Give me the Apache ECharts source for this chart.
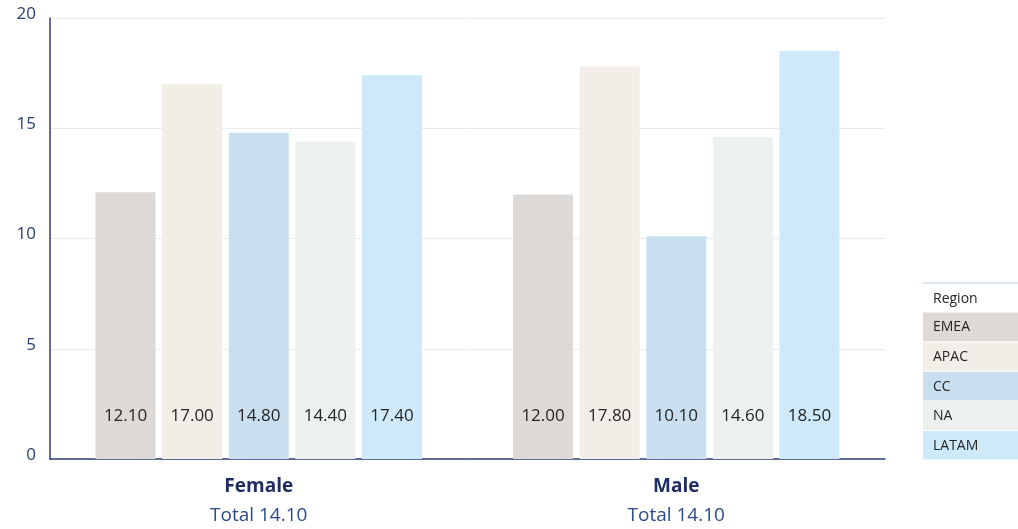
<!DOCTYPE html>
<html>
<head>
<meta charset="utf-8">
<script src="https://cdn.jsdelivr.net/npm/echarts@6/dist/echarts.min.js"></script>
<style>
html,body{margin:0;padding:0;background:#fff;}
#chart{width:1018px;height:529px;}
</style>
</head>
<body>
<div id="chart"></div>
<script>
// Average values by gender, split by region
const categories = ['Female', 'Male'];
const totals = ['14.10', '14.10'];
const regions = ['EMEA', 'APAC', 'CC', 'NA', 'LATAM'];
const regionColors = ['#dcd9d7', '#f2ede7', '#c9dff0', '#ecf0ef', '#cde9fa'];
const emea = [12.10, 12.00];
const apac = [17.00, 17.80];
const cc = [14.80, 10.10];
const na = [14.40, 14.60];
const latam = [17.40, 18.50];
const yTicks = [0, 5, 10, 15, 20];

const seriesValues = [emea, apac, cc, na, latam];
const font = "'Segoe UI', 'Open Sans', 'Noto Sans', sans-serif";

const chart = echarts.init(document.getElementById('chart'));

const series = regions.map((name, i) => ({
  name: name,
  type: 'bar',
  data: seriesValues[i],
  barWidth: 60,
  barGap: '11%',
  itemStyle: { color: regionColors[i] },
  label: {
    show: true,
    position: 'insideBottom',
    distance: 34,
    color: '#252525',
    fontSize: 17,
    fontFamily: font,
    formatter: p => p.value.toFixed(2)
  }
}));

// Region key drawn as a small table at the right
const legendLeft = 923, legendWidth = 95, rowH = 29.6, legendTop = 283;
const legendGraphics = [
  { type: 'line', shape: { x1: legendLeft, y1: legendTop, x2: legendLeft + legendWidth, y2: legendTop },
    style: { stroke: '#b8cfe4', lineWidth: 1 } },
  { type: 'text', x: legendLeft + 10, y: legendTop + 16,
    style: { text: 'Region', fontSize: 14, fontFamily: font, fill: '#252525', verticalAlign: 'middle' } }
];
regions.forEach((name, i) => {
  const y = legendTop + rowH * (i + 1);
  legendGraphics.push({ type: 'rect', shape: { x: legendLeft, y: y, width: legendWidth, height: rowH - 1 },
    style: { fill: regionColors[i] } });
  legendGraphics.push({ type: 'text', x: legendLeft + 10, y: y + rowH / 2,
    style: { text: name, fontSize: 14, fontFamily: font, fill: '#252525', verticalAlign: 'middle' } });
});

chart.setOption({
  animation: false,
  textStyle: { fontFamily: font },
  grid: { left: 50, right: 133, top: 18, bottom: 70 },
  xAxis: {
    type: 'category',
    data: categories,
    axisLine: { show: true, lineStyle: { color: '#2e3f7a', width: 1.5 } },
    axisTick: { show: false },
    axisLabel: {
      margin: 13,
      formatter: (v, idx) => '{b|' + v + '}\n{t|Total ' + totals[idx] + '}',
      rich: {
        b: { fontSize: 19, fontWeight: 'bold', color: '#1f2d62', fontFamily: font, lineHeight: 29 },
        t: { fontSize: 19, color: '#2d4a8c', fontFamily: font, lineHeight: 29 }
      }
    }
  },
  yAxis: {
    type: 'value',
    min: yTicks[0],
    max: yTicks[yTicks.length - 1],
    interval: yTicks[1] - yTicks[0],
    axisLine: { show: true, lineStyle: { color: '#2e3f7a', width: 1.5 } },
    axisTick: { show: false },
    axisLabel: {
      margin: 14,
      verticalAlign: 'middle',
      formatter: v => '{n|' + v + '}',
      rich: {
        n: { fontSize: 17, color: '#2b3d73', fontFamily: font, padding: [0, 0, 8, 0] }
      }
    },
    splitLine: { lineStyle: { color: '#ebebeb' } }
  },
  series: series,
  graphic: legendGraphics
});
</script>
</body>
</html>
